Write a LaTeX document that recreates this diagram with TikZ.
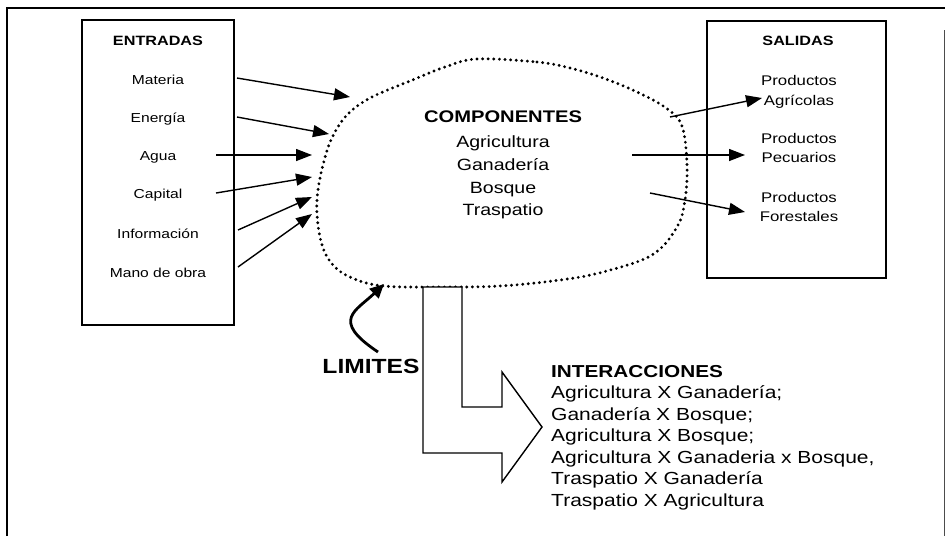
\documentclass[tikz,border=0pt]{standalone}
\usepackage{fontspec}
\setmainfont{Liberation Sans}[FakeStretch=1.2]
\usetikzlibrary{arrows.meta}
\begin{document}
\begin{tikzpicture}[x=1pt,y=-1pt,
  frame/.style={line width=2.2pt},
  rframe/.style={line width=1pt, black!70},
  boxnode/.style={draw, line width=1.4pt, inner sep=0pt},
  lbl/.style={inner sep=0pt, anchor=base},
  ent/.style={lbl, font=\fontsize{13}{15}\selectfont},
  entb/.style={lbl, font=\bfseries\fontsize{13.5}{15}\selectfont},
  sal/.style={lbl, font=\fontsize{14}{16}\selectfont},
  comp/.style={lbl, font=\fontsize{16.3}{18}\selectfont},
  compb/.style={lbl, font=\bfseries\fontsize{16.8}{18}\selectfont},
  inter/.style={lbl, anchor=base west, font=\fontsize{17.5}{20}\selectfont},
  interb/.style={lbl, anchor=base west, font=\bfseries\fontsize{17.3}{20}\selectfont},
  limb/.style={lbl, font=\bfseries\fontsize{20.5}{22}\selectfont},
  flow/.style={line width=1.4pt, -{Triangle[length=16pt,width=12pt]}},
  blob/.style={line width=3.2pt, dash pattern=on 0pt off 5.6pt, line cap=round},
  bigarrow/.style={line width=1.4pt, fill=white, line join=miter},
  curvearrow/.style={line width=2.8pt, -{Triangle[length=14pt,width=13pt]}}
]
\useasboundingbox (0,0) rectangle (946,536);
\fill[white] (0,0) rectangle (946,536);

% outer frame
\draw[frame] (7,536) -- (7,8) -- (945,8);
\draw[rframe] (944,30) -- (944,536);

% boxes
\node[boxnode, minimum width=152pt, minimum height=305pt] (entbox) at (158,172.5) {};
\node[boxnode, minimum width=179pt, minimum height=257pt] (salbox) at (796.5,149.5) {};

% entradas texts
\node[entb] (ent0) at (158,45) {ENTRADAS};
\node[ent] (ent1) at (158,84) {Materia};
\node[ent] (ent2) at (158,122) {Energía};
\node[ent] (ent3) at (158,160) {Agua};
\node[ent] (ent4) at (158,198) {Capital};
\node[ent] (ent5) at (158,238) {Información};
\node[ent] (ent6) at (158,277) {Mano de obra};

% salidas texts
\node[entb] (sal0) at (798,45) {SALIDAS};
\node[sal] (sal1a) at (799,85) {Productos};
\node[sal] (sal1b) at (799,105) {Agrícolas};
\node[sal] (sal2a) at (799,143) {Productos};
\node[sal] (sal2b) at (799,162) {Pecuarios};
\node[sal] (sal3a) at (799,202) {Productos};
\node[sal] (sal3b) at (799,221) {Forestales};

% boundary blob
\draw[blob] plot[smooth cycle, tension=0.6] coordinates {
  (477,59) (537,62) (570,68) (603,78) (637,92) (666,108) (682,126)
  (687,165) (685,200) (677,227) (652,255) (603,272) (560,280) (500,286)
  (440,287) (383,286) (352,278) (333,265) (322,245) (317,215) (318,190)
  (323,165) (331,140) (346,116) (370,98) (410,81) (445,67)};

% components
\node[compb] (comp0) at (503,122) {COMPONENTES};
\node[comp] (comp1) at (503,147) {Agricultura};
\node[comp] (comp2) at (503,170) {Ganadería};
\node[comp] (comp3) at (503,193) {Bosque};
\node[comp] (comp4) at (503,215) {Traspatio};

% input arrows
\coordinate (a1s) at (237,78);  \coordinate (a1e) at (350,97);
\coordinate (a2s) at (237,117); \coordinate (a2e) at (329,134);
\coordinate (a3s) at (216,155); \coordinate (a3e) at (312,155);
\coordinate (a4s) at (216,193); \coordinate (a4e) at (312,177);
\coordinate (a5s) at (238,230); \coordinate (a5e) at (312,197);
\coordinate (a6s) at (238,267); \coordinate (a6e) at (312,214);
\foreach \i in {1,...,6} \draw[flow] (a\i s) -- (a\i e);

% output arrows
\coordinate (b1s) at (670,117); \coordinate (b1e) at (762,98);
\coordinate (b2s) at (632,155); \coordinate (b2e) at (745,155);
\coordinate (b3s) at (650,193); \coordinate (b3e) at (745,212);
\foreach \i in {1,2,3} \draw[flow] (b\i s) -- (b\i e);

% L-shaped block arrow
\draw[bigarrow] (423,287) -- (462,287) -- (462,407) -- (502,407) -- (502,372)
  -- (542,427) -- (502,482) -- (502,453) -- (423,453) -- cycle;

% limites
\node[limb] (lim) at (371,373) {LIMITES};
\coordinate (l1) at (378,352);
\coordinate (l2) at (384,284);
\draw[curvearrow] (l1) .. controls (330,320) and (356,311) .. (l2);

% interacciones
\node[interb] (in0) at (551,377) {INTERACCIONES};
\node[inter] (in1) at (551,398.5) {Agricultura X Ganadería;};
\node[inter] (in2) at (551,420) {Ganadería X Bosque;};
\node[inter] (in3) at (551,441.5) {Agricultura X Bosque;};
\node[inter] (in4) at (551,463) {Agricultura X Ganaderia x Bosque,};
\node[inter] (in5) at (551,484.5) {Traspatio X Ganadería};
\node[inter] (in6) at (551,506) {Traspatio X Agricultura};
\end{tikzpicture}
\end{document}
